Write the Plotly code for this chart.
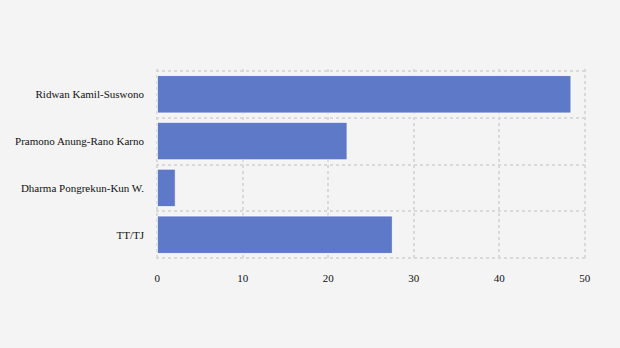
import plotly.graph_objects as go

categories = ["Ridwan Kamil-Suswono", "Pramono Anung-Rano Karno", "Dharma Pongrekun-Kun W.", "TT/TJ"]
values = [48.4, 22.2, 2.1, 27.5]
x_ticks = [0, 10, 20, 30, 40, 50]

fig = go.Figure()
fig.add_trace(go.Bar(
    y=categories, x=values, orientation="h",
    marker=dict(color="#5f79c9", line=dict(color="rgba(255,255,255,0.8)", width=1)),
    hoverinfo="x+y",
))

grid = "#d9d9d9"
serif = "Liberation Serif"
fig.update_layout(
    width=620, height=348,
    margin=dict(l=156, r=34, t=69, b=88),
    paper_bgcolor="#f4f4f4", plot_bgcolor="#f4f4f4",
    font=dict(family=serif, size=11, color="#111"),
    bargap=0.2, showlegend=False,
    xaxis=dict(range=[-0.16, 50.16], tickvals=x_ticks, showgrid=True, gridcolor=grid, griddash="3px,3px",
               gridwidth=1.5, zeroline=False, showline=False, ticks="", ticklabelstandoff=10,
               tickfont=dict(family=serif, size=11)),
    yaxis=dict(categoryorder="array", categoryarray=categories[::-1], tickson="boundaries",
               range=[-0.54, 3.54],
               showgrid=True, gridcolor=grid, griddash="3px,3px", gridwidth=1.5,
               showline=False, zeroline=False, ticks="", ticklabelstandoff=11,
               tickfont=dict(family=serif, size=11)),
)
fig.write_html("out.html")
